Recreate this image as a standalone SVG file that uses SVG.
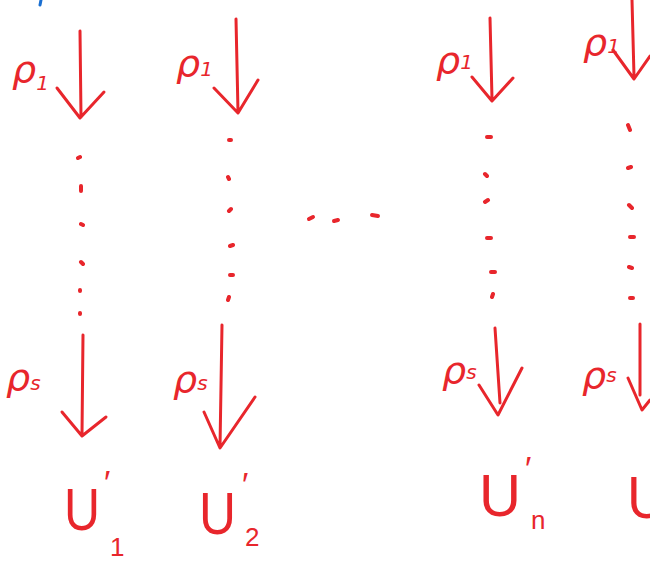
<svg xmlns="http://www.w3.org/2000/svg" width="650" height="561" viewBox="0 0 650 561">
<style>
.s{fill:none;stroke:#e8262c;stroke-width:3;stroke-linecap:round;stroke-linejoin:round}
.d{fill:none;stroke:#e8262c;stroke-width:4;stroke-linecap:round}
.t{fill:#e8262c;font-family:"DejaVu Sans",sans-serif;font-style:italic}
.rho{font-size:38px}
.sub{font-size:20px}
.u{font-size:60px;font-style:normal;font-family:"Liberation Sans",sans-serif}
.pr{font-size:34px;font-style:normal;font-family:"Liberation Sans",sans-serif}
.us{font-size:26px;font-style:normal;font-family:"Liberation Sans",sans-serif}
</style>
<rect width="650" height="561" fill="#ffffff"/>
<path d="M41 0 L40 5" stroke="#1a6fd1" stroke-width="3" stroke-linecap="round"/>
<g id="connectors">
  <path class="s" d="M80 31 L81 117 M57 88 L80 118 L104 92"/>
  <path class="s" d="M83 335 L82 434 M62 412 L82 436 L106 417"/>
  <path class="s" d="M236 19 L238 112 M214 88 L238 113 L258 80"/>
  <path class="s" d="M222 325 L220 447 M204 412 L220 448 L255 397"/>
  <path class="s" d="M490 18 L492 99 M472 77 L492 101 L513 78"/>
  <path class="s" d="M495 328 L500 403 M479 385 L498 415 L522 368"/>
  <path class="s" d="M632 0 L634 76 M613 50 L634 79 L650 56"/>
  <path class="s" d="M640 324 L640 395 M628 378 L642 410 L650 400"/>
</g>
<g id="dots">
  <path class="d" d="M78 158 l2 -1 M81 186 l0 5 M81 224 l2 1 M81 262 l2 2 M80 290 l0 1 M80 313 l0 1"/>
  <path class="d" d="M229 140 l2 0 M228 177 l1 2 M229 211 l2 -2 M230 246 l3 -1 M230 275 l3 0 M228 300 l1 -3"/>
  <path class="d" d="M309 219 l4 -2 M334 221 l4 -1 M372 215 l6 1"/>
  <path class="d" d="M487 137 l4 0 M485 174 l2 2 M485 202 l3 -2 M487 238 l4 0 M491 272 l4 0 M492 297 l1 -3"/>
  <path class="d" d="M628 125 l2 5 M628 168 l3 -1 M629 205 l3 3 M630 237 l4 0 M629 267 l3 1 M630 298 l3 0"/>
</g>
<g id="col1">
  <text class="t rho" x="12" y="82">ρ<tspan class="sub" dy="8">1</tspan></text>
  <text class="t rho" x="6" y="390">ρ<tspan class="sub" dy="0">s</tspan></text>
  <text class="t u" x="64" y="530" textLength="36" lengthAdjust="spacingAndGlyphs">U</text>
  <text class="t pr" x="104" y="494">′</text>
  <text class="t us" x="110" y="556">1</text>
</g>
<g id="col2">
  <text class="t rho" x="176" y="76">ρ<tspan class="sub" dy="0">1</tspan></text>
  <text class="t rho" x="173" y="392">ρ<tspan class="sub" dy="-2">s</tspan></text>
  <text class="t u" x="199" y="534" textLength="37" lengthAdjust="spacingAndGlyphs">U</text>
  <text class="t pr" x="242" y="496">′</text>
  <text class="t us" x="245" y="546">2</text>
</g>
<g id="coln">
  <text class="t rho" x="436" y="73">ρ<tspan class="sub" dy="-4">1</tspan></text>
  <text class="t rho" x="442" y="383">ρ<tspan class="sub" dy="-4">s</tspan></text>
  <text class="t u" x="479" y="516" textLength="42" lengthAdjust="spacingAndGlyphs">U</text>
  <text class="t pr" x="525" y="480">′</text>
  <text class="t us" x="531" y="529">n</text>
</g>
<g id="col4">
  <text class="t rho" x="583" y="55">ρ<tspan class="sub" dy="-2">1</tspan></text>
  <text class="t rho" x="582" y="388">ρ<tspan class="sub" dy="-6">s</tspan></text>
  <text class="t u" x="627" y="518" textLength="40" lengthAdjust="spacingAndGlyphs">U</text>
</g>
</svg>
